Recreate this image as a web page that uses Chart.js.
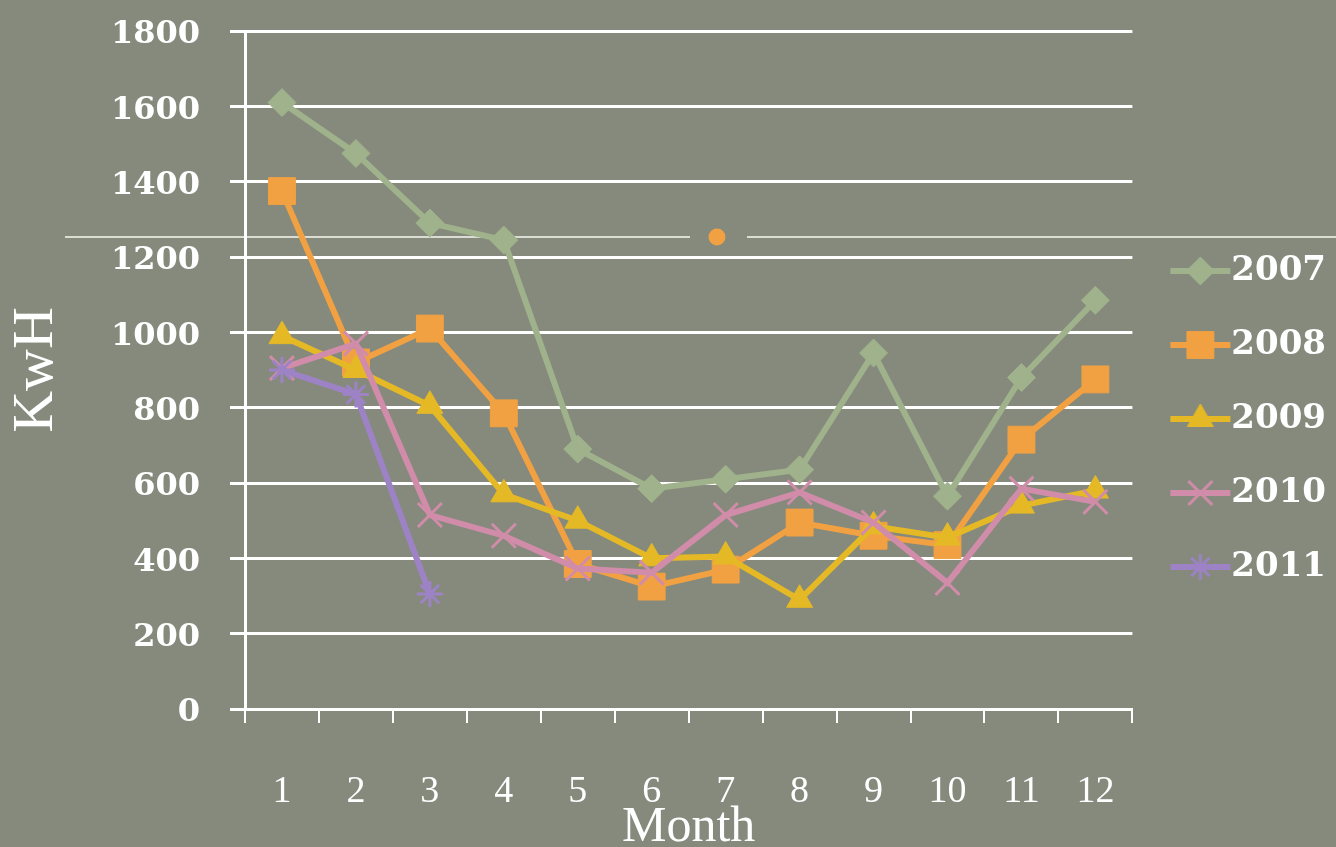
<!DOCTYPE html>
<html>
<head>
<meta charset="utf-8">
<script src="https://cdn.jsdelivr.net/npm/chart.js@4.4.1/dist/chart.umd.min.js"></script>
<style>
html,body{margin:0;padding:0;background:#858a7d;overflow:hidden}
canvas{display:block}
</style>
</head>
<body>
<canvas id="c" width="1336" height="847"></canvas>
<script>
// ---- data ----
const months = ['1','2','3','4','5','6','7','8','9','10','11','12'];
const yearLabels = ['2007','2008','2009','2010','2011'];
const kwh2007 = [1610,1475,1290,1245,690,585,610,635,945,565,880,1085];
const kwh2008 = [1375,920,1010,785,385,325,370,495,460,435,715,875];
const kwh2009 = [990,900,805,570,500,400,405,290,485,455,540,580];
const kwh2010 = [905,970,515,460,373,362,515,575,495,335,585,550];
const kwh2011 = [900,835,305];
const yMin = 0, yMax = 1800, yStep = 200;
const xTitle = 'Month';
const yTitle = 'KwH';

// ---- styles ----
const colors = ['#9fb28b','#f2a142','#e5b925','#d08ca8','#9d83c6'];
const markers = [
  {style:'rectRot', radius:14, bw:1},
  {style:'rect', radius:19, bw:1},
  {style:'triangle', radius:15, bw:1},
  {style:'crossRot', radius:17, bw:3},
  {style:'star', radius:13, bw:3}
];
const series = [kwh2007,kwh2008,kwh2009,kwh2010,kwh2011];

function legendImage(color, m){
  const c = document.createElement('canvas');
  c.width = 90; c.height = 44;
  const g = c.getContext('2d');
  const cx = 52, cy = 22;
  g.strokeStyle = color; g.lineWidth = 6;
  g.beginPath(); g.moveTo(cx-30, cy); g.lineTo(cx+30, cy); g.stroke();
  g.fillStyle = color; g.strokeStyle = color; g.lineWidth = m.bw;
  Chart.helpers.drawPoint(g, {pointStyle:m.style, radius:m.radius, rotation:0, borderWidth:m.bw}, cx, cy);
  return c;
}
const legendImages = colors.map((c,i)=>legendImage(c, markers[i]));

const datasets = series.map((d,i)=>({
  label: yearLabels[i],
  data: d,
  borderColor: colors[i],
  backgroundColor: colors[i],
  borderWidth: 6,
  tension: 0,
  pointStyle: markers[i].style,
  pointRadius: markers[i].radius,
  pointBorderWidth: markers[i].bw,
  pointBackgroundColor: colors[i],
  pointBorderColor: colors[i],
  order: series.length - i
}));

const slideDecor = {
  id:'slideDecor',
  beforeDraw(chart){
    const g = chart.ctx;
    g.save();
    g.fillStyle = '#858a7d';
    g.fillRect(0,0,chart.width,chart.height);
    g.strokeStyle = 'rgba(228,229,223,0.9)';
    g.lineWidth = 2;
    g.beginPath();
    g.moveTo(65,237); g.lineTo(690,237);
    g.moveTo(747,237); g.lineTo(1336,237);
    g.stroke();
    g.fillStyle = '#f2a142';
    g.beginPath(); g.arc(717,237,8.5,0,Math.PI*2); g.fill();
    g.restore();
  }
};

new Chart(document.getElementById('c'), {
  type:'line',
  data:{labels:months, datasets},
  plugins:[slideDecor],
  options:{
    responsive:false,
    animation:false,
    events:[],
    devicePixelRatio:1,
    layout:{padding:{top:31,bottom:40,left:0,right:0}},
    plugins:{
      tooltip:{enabled:false},
      legend:{
        position:'right',
        align:'center',
        labels:{
          usePointStyle:true,
          pointStyleWidth:42,
          padding:40,
          color:'#ffffff',
          font:{family:'DejaVu Serif', weight:'bold', size:34},
          generateLabels(chart){
            return chart.data.datasets.map((ds,i)=>({
              text: ds.label,
              fillStyle: ds.borderColor,
              strokeStyle: ds.borderColor,
              lineWidth: 0,
              pointStyle: legendImages[i],
              hidden: false,
              datasetIndex: i,
              fontColor: '#ffffff'
            }));
          }
        }
      }
    },
    scales:{
      x:{
        offset:true,
        grid:{offset:true, drawOnChartArea:false, drawTicks:true, tickLength:14, color:'#ffffff', lineWidth:2},
        border:{color:'#ffffff', width:3},
        ticks:{color:'#ffffff', font:{family:'Liberation Serif', size:38}, padding:46, maxRotation:0, autoSkip:false},
        title:{display:true, text:xTitle, color:'#ffffff', font:{family:'Liberation Serif', size:50, lineHeight:1}, padding:{top:0,bottom:-46}},
        afterFit(s){ s.height = 98; }
      },
      y:{
        min:yMin, max:yMax,
        ticks:{stepSize:yStep, color:'#ffffff', font:{family:'DejaVu Serif', weight:'bold', size:32}, padding:30, labelOffset:4,
               callback:(v)=>String(v)},
        grid:{color:'#ffffff', lineWidth:3, tickLength:15},
        border:{color:'#ffffff', width:3},
        title:{display:true, text:yTitle, color:'#ffffff', font:{family:'Liberation Serif', size:58, lineHeight:1}, padding:{top:8,bottom:0}},
        afterFit(s){ s.width = 245; s.paddingTop = 0; s.paddingBottom = 0; }
      }
    }
  }
});
</script>
</body>
</html>
